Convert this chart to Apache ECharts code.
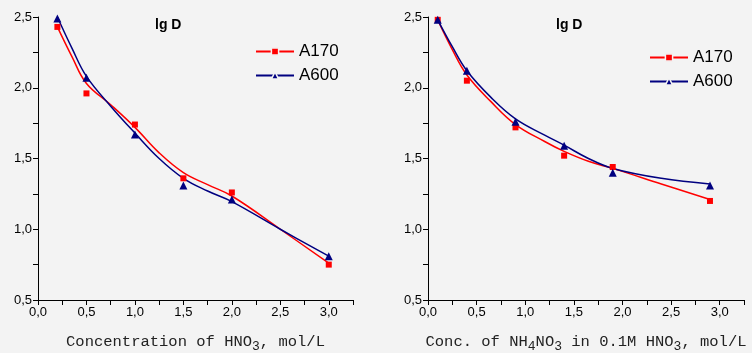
<!DOCTYPE html>
<html>
<head>
<meta charset="utf-8">
<script src="https://cdn.jsdelivr.net/npm/echarts@6/dist/echarts.min.js"></script>
<style>
  html, body { margin: 0; padding: 0; background: #f3f3f3; }
  #chart { width: 752px; height: 353px; }
</style>
</head>
<body>
<div id="chart"></div>
<script>
// left panel: HNO3
const xHNO3 = [0.2, 0.5, 1.0, 1.5, 2.0, 3.0];
const a170HNO3 = [2.43, 1.96, 1.74, 1.36, 1.26, 0.75];
const a600HNO3 = [2.49, 2.07, 1.67, 1.31, 1.21, 0.81];
// fitted curves
const fitXHNO3 = [0.2, 0.35, 0.5, 0.75, 1.0, 1.25, 1.5, 1.75, 2.0, 2.5, 3.0];
const fitA170HNO3 = [2.43, 2.22, 2.03, 1.88, 1.72, 1.54, 1.40, 1.315, 1.235, 1.00, 0.76];
const fitA600HNO3 = [2.50, 2.28, 2.08, 1.87, 1.68, 1.50, 1.36, 1.27, 1.195, 1.00, 0.81];

// right panel: NH4NO3 in 0.1M HNO3
const xNH4 = [0.1, 0.4, 0.9, 1.4, 1.9, 2.9];
const a170NH4 = [2.48, 2.05, 1.72, 1.52, 1.44, 1.20];
const a600NH4 = [2.48, 2.12, 1.76, 1.59, 1.40, 1.31];
const fitXNH4 = [0.1, 0.25, 0.4, 0.65, 0.9, 1.2, 1.4, 1.65, 1.9, 2.4, 2.9];
const fitA170NH4 = [2.48, 2.27, 2.09, 1.90, 1.74, 1.62, 1.55, 1.48, 1.43, 1.32, 1.21];
const fitA600NH4 = [2.48, 2.29, 2.12, 1.93, 1.78, 1.665, 1.594, 1.50, 1.43, 1.36, 1.32];

const seriesNames = ['A170', 'A600'];
const RED = '#ff0000';
const NAVY = '#000080';

const zip = (xs, ys) => xs.map((x, i) => [x, ys[i]]);

const labelFmt = (v) => {
  if (Math.abs(v * 2 - Math.round(v * 2)) > 1e-6) return '';
  return v.toFixed(1).replace('.', ',');
};

const axisCommon = {
  axisLine: { show: true, lineStyle: { color: '#000', width: 1 } },
  axisTick: { show: true, inside: false, length: 5, lineStyle: { color: '#000' } },
  splitLine: { show: false },
  axisLabel: {
    color: '#000',
    fontFamily: 'Liberation Sans, Arial',
    fontSize: 13,
    margin: 6,
    formatter: labelFmt,
  },
};

const nameRich = {
  n: { fontFamily: 'Liberation Mono', fontSize: 15.5, color: '#222' },
  s: { fontFamily: 'Liberation Mono', fontSize: 13, color: '#222', padding: [10, 0, 0, 0] },
};

const makeX = (idx, name) => ({
  type: 'value',
  gridIndex: idx,
  min: 0,
  max: 3.25,
  interval: 0.25,
  name: name,
  nameLocation: 'middle',
  nameGap: 30,
  nameTextStyle: { rich: nameRich },
  ...axisCommon,
});

const makeY = (idx) => ({
  type: 'value',
  gridIndex: idx,
  min: 0.5,
  max: 2.5,
  interval: 0.25,
  ...axisCommon,
});

const lineSeries = (name, idx, data, color) => ({
  name: name,
  type: 'line',
  xAxisIndex: idx,
  yAxisIndex: idx,
  data: data,
  smooth: 0.4,
  showSymbol: false,
  symbol: name === 'A170' ? 'rect' : 'triangle',
  lineStyle: { color: color, width: 1.5 },
  itemStyle: { color: color },
  z: 2,
});

const pointSeries = (name, idx, data, color) => ({
  name: name,
  type: 'scatter',
  xAxisIndex: idx,
  yAxisIndex: idx,
  data: data,
  symbol: name === 'A170' ? 'rect' : 'triangle',
  symbolSize: name === 'A170' ? 6 : 8,
  itemStyle: { color: color, opacity: 1 },
  z: 3,
});

const legendCommon = {
  orient: 'vertical',
  data: seriesNames,
  padding: 0,
  itemWidth: 38,
  itemHeight: 9,
  itemGap: 7,
  selectedMode: false,
  textStyle: { fontFamily: 'Liberation Sans, Arial', fontSize: 17, color: '#000' },
  itemStyle: { borderColor: '#f3f3f3', borderWidth: 1.5 },
};

const titleCommon = {
  text: 'lg D',
  padding: 0,
  textStyle: { fontFamily: 'Liberation Sans, Arial', fontSize: 14, fontWeight: 'bold', color: '#000' },
};

const chart = echarts.init(document.getElementById('chart'));
chart.setOption({
  backgroundColor: '#f3f3f3',
  animation: false,
  title: [
    { ...titleCommon, left: 155, top: 18 },
    { ...titleCommon, left: 556, top: 18 },
  ],
  legend: [
    { ...legendCommon, left: 255, top: 43 },
    { ...legendCommon, left: 649, top: 49 },
  ],
  grid: [
    { left: 38, top: 17, width: 315, height: 283, outerBoundsMode: 'none', containLabel: false },
    { left: 428, top: 17, width: 316, height: 283, outerBoundsMode: 'none', containLabel: false },
  ],
  xAxis: [
    makeX(0, '{n|Concentration of HNO}{s|3}{n|, mol/L}'),
    makeX(1, '{n|Conc. of NH}{s|4}{n|NO}{s|3}{n| in 0.1M HNO}{s|3}{n|, mol/L}'),
  ],
  yAxis: [makeY(0), makeY(1)],
  series: [
    lineSeries('A170', 0, zip(fitXHNO3, fitA170HNO3), RED),
    lineSeries('A600', 0, zip(fitXHNO3, fitA600HNO3), NAVY),
    pointSeries('A170', 0, zip(xHNO3, a170HNO3), RED),
    pointSeries('A600', 0, zip(xHNO3, a600HNO3), NAVY),
    lineSeries('A170', 1, zip(fitXNH4, fitA170NH4), RED),
    lineSeries('A600', 1, zip(fitXNH4, fitA600NH4), NAVY),
    pointSeries('A170', 1, zip(xNH4, a170NH4), RED),
    pointSeries('A600', 1, zip(xNH4, a600NH4), NAVY),
  ],
});
</script>
</body>
</html>
